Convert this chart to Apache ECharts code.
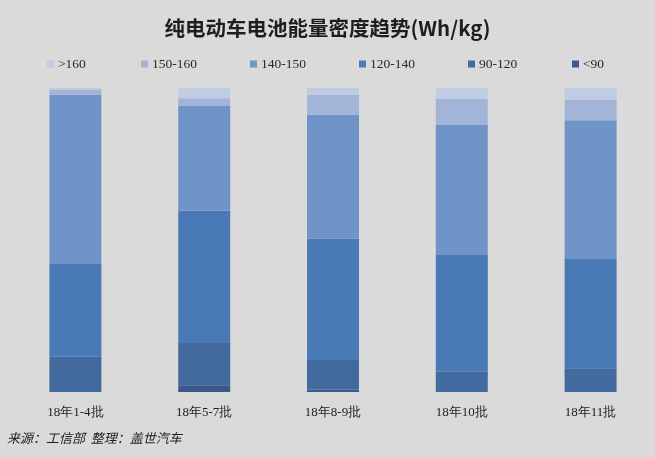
<!DOCTYPE html>
<html>
<head>
<meta charset="utf-8">
<script src="https://cdn.jsdelivr.net/npm/echarts@6/dist/echarts.min.js"></script>
<style>
html,body{margin:0;padding:0;background:#dadada;}
#chart{width:655px;height:457px;}
</style>
</head>
<body>
<div id="chart"></div>
<script>
var categories = ['18年1-4批', '18年5-7批', '18年8-9批', '18年10批', '18年11批'];
var seriesNames = ['<90', '90-120', '120-140', '140-150', '150-160', '>160'];
var valsLt90 = [0, 2.2, 0.8, 0, 0];
var vals90_120 = [11.6, 13.9, 9.7, 6.7, 7.8];
var vals120_140 = [30.5, 43.5, 39.9, 38.4, 36.2];
var vals140_150 = [55.7, 34.5, 40.8, 42.7, 45.4];
var vals150_160 = [1.7, 2.5, 6.6, 8.6, 6.8];
var valsGt160 = [0.5, 3.3, 2.2, 3.6, 3.8];
var seriesValues = [valsLt90, vals90_120, vals120_140, vals140_150, vals150_160, valsGt160];
var colors = ['#3a5a8e', '#436a9f', '#4a7ab6', '#7194c8', '#a2b4d8', '#c0cce4'];
var legendLeft = {'>160': 47, '150-160': 141, '140-150': 250, '120-140': 359, '90-120': 468, '<90': 572};

var chart = echarts.init(document.getElementById('chart'), null, {renderer: 'canvas'});
var legends = seriesNames.map(function (n) {
  return {
    data: [n], left: legendLeft[n], top: 57, itemWidth: 7, itemHeight: 7, itemGap: 0,
    icon: 'rect', padding: 0,
    textStyle: {fontFamily: 'Liberation Serif', fontSize: 13.5, color: '#2a2a2a', padding: [0, 0, 0, -1]}
  };
});
var series = seriesNames.map(function (n, i) {
  return {
    name: n, type: 'bar', stack: 'total', barWidth: 52,
    data: seriesValues[i],
    itemStyle: {color: colors[i]},
    emphasis: {disabled: true}
  };
});
chart.setOption({
  backgroundColor: '#dadada',
  animation: false,
  color: colors,
  title: {
    text: '纯电动车电池能量密度趋势(Wh/kg)', left: 'center', top: 13,
    textStyle: {fontFamily: 'Noto Sans CJK SC', fontSize: 20.5, fontWeight: 'bold', color: '#1e1e1e'}
  },
  legend: legends,
  grid: {left: 11, width: 649, top: 88, height: 304},
  xAxis: {
    type: 'category', data: categories,
    axisLine: {show: false}, axisTick: {show: false},
    axisLabel: {margin: 14, fontFamily: 'Liberation Serif', fontSize: 13, color: '#1e1e1e'}
  },
  yAxis: {type: 'value', min: 0, max: 100, show: false, splitLine: {show: false}},
  graphic: [{
    type: 'text', left: 7, top: 432,
    style: {text: '来源：工信部  整理：盖世汽车', font: 'italic 13px "Noto Sans CJK SC"', fill: '#1e1e1e'}
  }],
  series: series
});
</script>
</body>
</html>
